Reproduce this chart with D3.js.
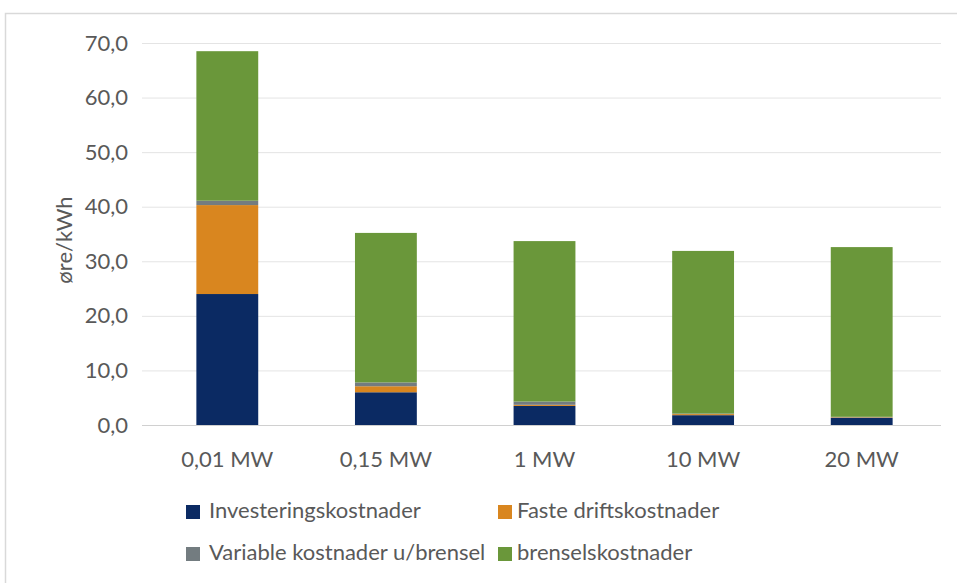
<!DOCTYPE html>
<html><head><meta charset="utf-8">
<script src="https://cdn.jsdelivr.net/npm/d3@7"></script>
<style>body{margin:0;background:#fff;}svg{display:block;font-family:Lato, "Open Sans", sans-serif;}</style>
</head><body>
<svg id="c" width="957" height="583"></svg>
<script>
const categories = ["0,01 MW","0,15 MW","1 MW","10 MW","20 MW"];
const seriesNames = ["Investeringskostnader","Faste driftskostnader","Variable kostnader u/brensel","brenselskostnader"];
const investering = [24.0, 6.0, 3.5, 1.8, 1.3];
const faste = [16.3, 1.1, 0.2, 0.2, 0.1];
const variable = [0.8, 0.7, 0.6, 0.1, 0.1];
const brensel = [27.4, 27.4, 29.4, 29.8, 31.1];
const yTicks = [0,10,20,30,40,50,60,70];
const colors = ["#0b2a63","#d9861f","#737c80","#6a973a"];

const svg = d3.select("#c");
const FS = 22;
// outer frame
svg.append("rect").attr("x",5.5).attr("y",13.5).attr("width",970).attr("height",600)
  .attr("fill","#fff").attr("stroke","#d9d9d9").attr("stroke-width",1.5);

const x = d3.scaleBand().domain(categories).range([148,941]).paddingInner(0.61).paddingOuter(0.305);
const y = d3.scaleLinear().domain([0,70]).range([425,43]);

// gridlines
svg.append("g").selectAll("line").data(yTicks).join("line")
  .attr("x1",142).attr("x2",941).attr("y1",d=>y(d)+0.5).attr("y2",d=>y(d)+0.5)
  .attr("stroke",d=>d===0?"#d0d0d0":"#e4e4e4").attr("stroke-width",1);

const rows = categories.map((c,i)=>({cat:c, v:[investering[i],faste[i],variable[i],brensel[i]]}));
const stacked = d3.stack().keys([0,1,2,3]).value((d,k)=>d.v[k])(rows);

svg.append("g").selectAll("g").data(stacked).join("g").attr("fill",(d,i)=>colors[i])
  .selectAll("rect").data(d=>d).join("rect")
  .attr("x",d=>x(d.data.cat)).attr("width",x.bandwidth())
  .attr("y",d=>y(d[1])).attr("height",d=>y(d[0])-y(d[1]));

// y axis labels
const yAxis = d3.axisLeft(y).tickValues(yTicks).tickSize(0).tickPadding(0)
  .tickFormat(d=>d3.format(".1f")(d).replace(".",","));
const ya = svg.append("g").attr("transform","translate(128,0)").call(yAxis);
ya.select(".domain").remove();
ya.selectAll("text").attr("font-size",FS).attr("fill","#595959").attr("font-family","Lato, sans-serif");

// x axis labels
const xAxis = d3.axisBottom(x).tickSize(0).tickPadding(0);
const xa = svg.append("g").attr("transform","translate(0,451)").call(xAxis);
xa.select(".domain").remove();
xa.selectAll("text").attr("font-size",FS).attr("fill","#595959").attr("font-family","Lato, sans-serif");

// y title
svg.append("text").attr("transform","translate(72,240) rotate(-90)").attr("text-anchor","middle")
  .attr("font-size",FS).attr("fill","#595959").text("øre/kWh");

// legend
const legendPos = [[186,518],[498,518],[186,560],[498,560]];
const lg = svg.append("g").selectAll("g").data(seriesNames).join("g")
  .attr("transform",(d,i)=>`translate(${legendPos[i][0]},${legendPos[i][1]})`);
lg.append("rect").attr("x",0).attr("y",-13).attr("width",14).attr("height",14).attr("fill",(d,i)=>colors[i]);
lg.append("text").attr("x",(d,i)=>i%2===0?23:19).attr("y",0).attr("font-size",FS).attr("fill","#595959").text(d=>d);
</script>
</body></html>
